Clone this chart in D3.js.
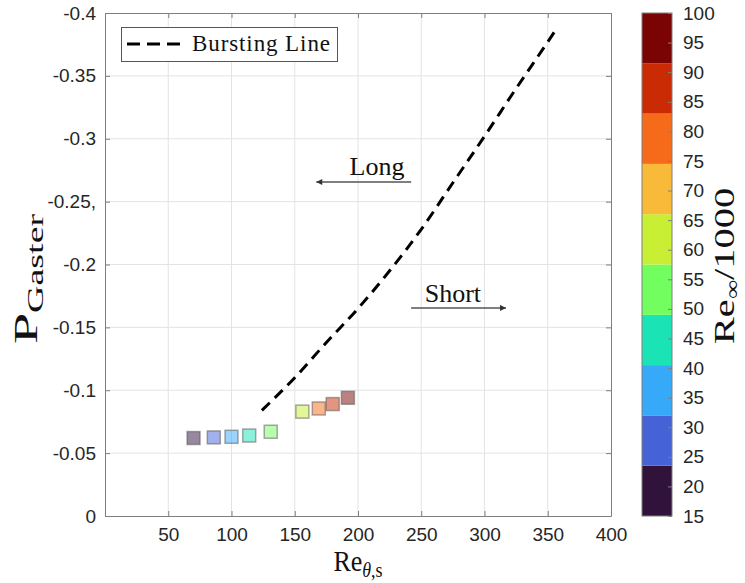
<!DOCTYPE html>
<html>
<head>
    <title>Bursting line vs P_Gaster</title>
    <script src="https://cdn.jsdelivr.net/npm/d3@7"></script>
    <style>
        body { margin: 0; background: #fff; }
        .tick text { font-family: "Liberation Sans", Arial, sans-serif; font-size: 19px; fill: #262626; }
        .frame line, .frame path { stroke: #7f7f7f; }
        .serif { font-family: "Liberation Serif", "DejaVu Serif", serif; fill: #111; }
    </style>
</head>
<body>
<script>
    // Data
    const reTheta = [70, 86, 100, 114, 131, 156, 169, 180, 192];
    const pGaster = [-0.062, -0.0625, -0.063, -0.064, -0.067, -0.083, -0.0855, -0.089, -0.094];
    const reInf = [20, 28, 36, 45, 53, 62, 78, 87, 95];   // Re_inf / 1000

    // bursting line
    const burstRe = [124, 150, 175, 200, 225, 250, 275, 300, 325, 350, 358];
    const burstP = [-0.084, -0.110, -0.138, -0.165, -0.195, -0.228, -0.265, -0.302, -0.340, -0.377, -0.389];

    // tick labels
    const xTicks = [50, 100, 150, 200, 250, 300, 350, 400];
    const yTicks = [0, -0.05, -0.1, -0.15, -0.2, -0.25, -0.3, -0.35, -0.4];
    const yTickLabels = ["0", "-0.05", "-0.1", "-0.15", "-0.2", "-0.25,", "-0.3", "-0.35", "-0.4"];
    const cbTicks = [15, 20, 25, 30, 35, 40, 45, 50, 55, 60, 65, 70, 75, 80, 85, 90, 95, 100];

    // turbo(10) colormap
    const turbo10 = ["#30123b", "#4662d7", "#36a9f9", "#1ae4b6", "#72fe5e",
                     "#c8ef34", "#faba39", "#f66b19", "#ca2a04", "#7a0403"];

    // annotations: [Re, P]
    const longArrow = [[242, -0.2656], [167, -0.2656]];
    const shortArrow = [[242, -0.1655], [317, -0.1655]];
    const longText = [215, -0.2715];
    const shortText = [275, -0.1705];

    const width = 745, height = 583;
    const svg = d3.select("body").append("svg")
        .attr("width", width)
        .attr("height", height);

    const x = d3.scaleLinear().domain([0, 400]).range([105, 611]);
    const y = d3.scaleLinear().domain([0, -0.4]).range([516, 13]);
    const color = d3.scaleQuantize().domain([15, 100]).range(turbo10);

    // grid
    const grid = svg.append("g").attr("stroke", "#e3e3e3").attr("stroke-width", 1);
    grid.selectAll(".gx").data(xTicks.slice(0, -1)).enter().append("line")
        .attr("x1", d => x(d)).attr("x2", d => x(d))
        .attr("y1", y(0)).attr("y2", y(-0.4));
    grid.selectAll(".gy").data(yTicks.slice(1, -1)).enter().append("line")
        .attr("y1", d => y(d)).attr("y2", d => y(d))
        .attr("x1", x(0)).attr("x2", x(400));

    // axes
    svg.append("g").attr("class", "frame")
        .attr("transform", `translate(0,${y(0)})`)
        .call(d3.axisBottom(x).tickValues(xTicks).tickSizeInner(-5).tickSizeOuter(0).tickPadding(12));
    svg.append("g").attr("class", "frame")
        .attr("transform", `translate(${x(0)},0)`)
        .call(d3.axisLeft(y).tickValues(yTicks).tickSizeInner(-5).tickSizeOuter(0).tickPadding(9)
            .tickFormat((d, i) => yTickLabels[i]));
    svg.append("g").attr("class", "frame")
        .attr("transform", `translate(0,${y(-0.4)})`)
        .call(d3.axisTop(x).tickValues(xTicks).tickSizeInner(-5).tickSizeOuter(0).tickFormat(""));
    svg.append("g").attr("class", "frame")
        .attr("transform", `translate(${x(400)},0)`)
        .call(d3.axisRight(y).tickValues(yTicks).tickSizeInner(-5).tickSizeOuter(0).tickFormat(""));
    svg.selectAll(".frame .domain").attr("stroke", "#7f7f7f");

    // bursting line
    const line = d3.line().x(d => x(d[0])).y(d => y(d[1])).curve(d3.curveMonotoneX);
    svg.append("path")
        .datum(burstRe.map((r, i) => [r, burstP[i]]))
        .attr("d", line)
        .attr("fill", "none")
        .attr("stroke", "#000")
        .attr("stroke-width", 3)
        .attr("stroke-dasharray", "11,7");

    // markers
    const sz = 13;
    svg.selectAll(".pt").data(reTheta).enter().append("rect")
        .attr("x", (d, i) => x(d) - sz / 2)
        .attr("y", (d, i) => y(pGaster[i]) - sz / 2)
        .attr("width", sz).attr("height", sz)
        .attr("fill", (d, i) => color(reInf[i]))
        .attr("fill-opacity", 0.5)
        .attr("stroke", "#555")
        .attr("stroke-opacity", 0.5)
        .attr("stroke-width", 1.5);

    // arrows
    const defs = svg.append("defs");
    defs.append("marker").attr("id", "arr")
        .attr("viewBox", "0 0 10 10").attr("refX", 10).attr("refY", 5)
        .attr("markerWidth", 12).attr("markerHeight", 6).attr("markerUnits", "userSpaceOnUse")
        .attr("orient", "auto")
        .append("path").attr("d", "M0,0L10,5L0,10Z").attr("fill", "#333");
    [longArrow, shortArrow].forEach(a => {
        svg.append("line")
            .attr("x1", x(a[0][0])).attr("y1", y(a[0][1]))
            .attr("x2", x(a[1][0])).attr("y2", y(a[1][1]))
            .attr("stroke", "#555").attr("stroke-width", 1.5)
            .attr("marker-end", "url(#arr)");
    });
    svg.append("text").attr("class", "serif")
        .attr("x", x(longText[0])).attr("y", y(longText[1]))
        .attr("text-anchor", "middle").attr("font-size", 26).text("Long");
    svg.append("text").attr("class", "serif")
        .attr("x", x(shortText[0])).attr("y", y(shortText[1]))
        .attr("text-anchor", "middle").attr("font-size", 26).text("Short");

    // legend
    const lg = svg.append("g");
    lg.append("rect").attr("x", 121.5).attr("y", 27.5).attr("width", 216).attr("height", 34)
        .attr("fill", "#fff").attr("stroke", "#555").attr("stroke-width", 1);
    lg.append("line").attr("x1", 127).attr("x2", 180).attr("y1", 44).attr("y2", 44)
        .attr("stroke", "#000").attr("stroke-width", 3).attr("stroke-dasharray", "13,7");
    lg.append("text").attr("class", "serif").attr("x", 192).attr("y", 51)
        .attr("font-size", 23).attr("textLength", 138).text("Bursting Line");

    // colorbar
    const cb = d3.scaleLinear().domain([15, 100]).range([516, 13]);
    const cbx0 = 642, cbw = 30;
    const edges = [15].concat(color.thresholds(), [100]);
    svg.selectAll(".cb").data(turbo10).enter().append("rect")
        .attr("x", cbx0)
        .attr("y", (d, i) => cb(edges[i + 1]))
        .attr("width", cbw)
        .attr("height", (d, i) => cb(edges[i]) - cb(edges[i + 1]))
        .attr("fill", d => d);
    svg.append("g").attr("class", "frame cbax")
        .attr("transform", `translate(${cbx0 + cbw},0)`)
        .call(d3.axisRight(cb).tickValues(cbTicks).tickSizeInner(-4).tickSizeOuter(0).tickPadding(11));
    svg.select(".cbax .domain").remove();
    svg.selectAll(".cbax .tick line").attr("stroke", "#222");
    svg.append("rect").attr("x", cbx0).attr("y", cb(100)).attr("width", cbw).attr("height", cb(15) - cb(100))
        .attr("fill", "none").attr("stroke", "#7f7f7f");

    // axis labels (the reference stretches text along the vertical)
    const xl = svg.append("text").attr("class", "serif")
        .attr("transform", "translate(358,571) scale(1,1.15)")
        .attr("text-anchor", "middle").attr("font-size", 26);
    xl.append("tspan").text("Re");
    xl.append("tspan").attr("font-size", 18).attr("dy", 5).attr("font-style", "italic").text("θ");
    xl.append("tspan").attr("font-size", 18).text(",s");

    const yl = svg.append("text").attr("class", "serif")
        .attr("transform", "translate(37,279) rotate(-90) scale(1.65,1)")
        .attr("text-anchor", "middle").attr("font-size", 34);
    yl.append("tspan").text("P");
    yl.append("tspan").attr("font-size", 23).attr("dy", 6).text("Gaster");

    const cl = svg.append("text").attr("class", "serif")
        .attr("transform", "translate(734,266) rotate(-90) scale(1.35,1)")
        .attr("text-anchor", "middle").attr("font-size", 30);
    cl.append("tspan").text("Re");
    cl.append("tspan").attr("font-size", 20).attr("dy", 5).text("∞");
    cl.append("tspan").attr("dy", -5).text("/1000");
</script>
</body>
</html>
